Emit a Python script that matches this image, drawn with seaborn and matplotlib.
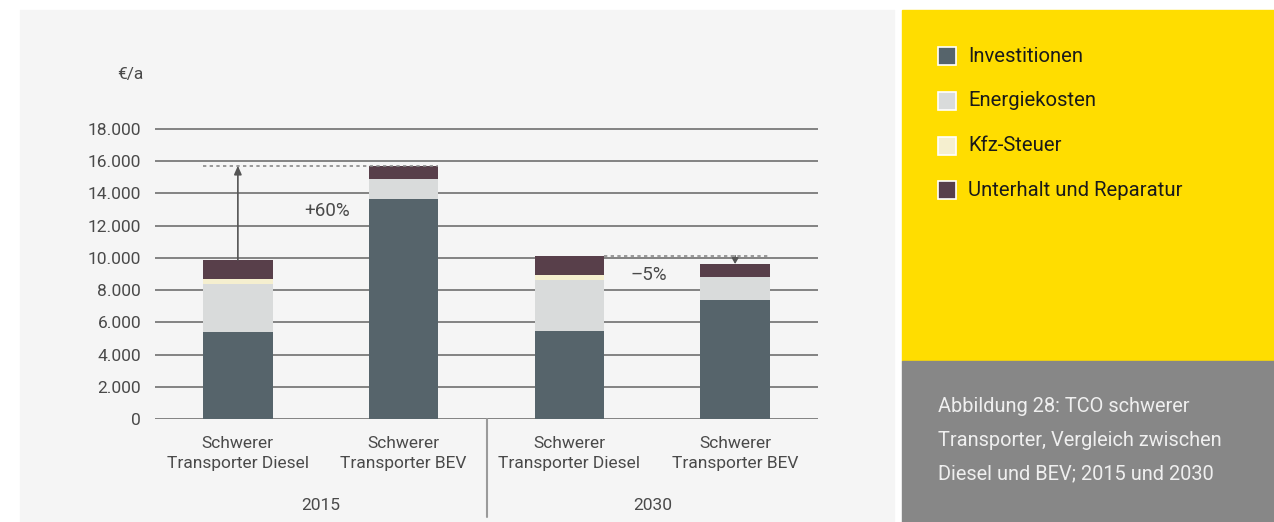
import numpy as np
import pandas as pd
import matplotlib
matplotlib.use("Agg")
import matplotlib.pyplot as plt
from matplotlib.patches import Rectangle
import seaborn as sns

# data (EUR per year)
bar_ids = ["d2015", "bev2015", "d2030", "bev2030"]
bar_labels = ["Schwerer\nTransporter Diesel", "Schwerer\nTransporter BEV",
              "Schwerer\nTransporter Diesel", "Schwerer\nTransporter BEV"]
years = ["2015", "2030"]
investitionen = [5400, 13660, 5460, 7390]
energiekosten = [2980, 1240, 3170, 1440]
kfz_steuer = [310, 0, 330, 0]
unterhalt = [1180, 820, 1180, 790]
components = ["Investitionen", "Energiekosten", "Kfz-Steuer", "Unterhalt und Reparatur"]
colors = ["#56646b", "#d9dbdb", "#f5efcf", "#583f4a"]
yticks = [0, 2000, 4000, 6000, 8000, 10000, 12000, 14000, 16000, 18000]
ytick_labels = ["0", "2.000", "4.000", "6.000", "8.000", "10.000",
                "12.000", "14.000", "16.000", "18.000"]
caption_lines = ["Abbildung 28: TCO schwerer", "Transporter, Vergleich zwischen",
                 "Diesel und BEV; 2015 und 2030"]

df = pd.DataFrame({"bar": bar_ids, "Investitionen": investitionen,
                   "Energiekosten": energiekosten, "Kfz-Steuer": kfz_steuer,
                   "Unterhalt und Reparatur": unterhalt})
cum = df[components].cumsum(axis=1)
totals = cum[components[-1]]

sns.set_style("white")
plt.rcParams["font.family"] = ["Roboto", "DejaVu Sans"]

W, H = 1274, 522
fig = plt.figure(figsize=(W / 100, H / 100), dpi=100)
fig.patch.set_facecolor("white")

def fx(px):
    return px / W

def fy(py):
    return 1 - py / H

# background panels
fig.patches.append(Rectangle((fx(20), 0), fx(894) - fx(20), fy(10), transform=fig.transFigure,
                             color="#f5f5f5", zorder=-10))
fig.patches.append(Rectangle((fx(902), fy(361)), 1 - fx(902), fy(10) - fy(361),
                             transform=fig.transFigure, color="#ffdd00", zorder=-10))
fig.patches.append(Rectangle((fx(902), 0), 1 - fx(902), fy(361),
                             transform=fig.transFigure, color="#878787", zorder=-10))

ymax = 18500
px_per_unit = (419 - 129) / 18000
top_px = 419 - ymax * px_per_unit
ax = fig.add_axes([fx(155), fy(419), fx(818) - fx(155), fy(top_px) - fy(419)])
ax.set_facecolor("none")

# stacked bars: draw cumulative sums from the top down
for comp, col in reversed(list(zip(components, colors))):
    sns.barplot(x=df["bar"], y=cum[comp], color=col, width=0.42, saturation=1,
                errorbar=None, linewidth=0, ax=ax, zorder=3)

ax.set_xlim(-0.5, 3.5)
ax.set_ylim(0, ymax)
ax.set_yticks(yticks)
ax.set_yticklabels(ytick_labels)
ax.yaxis.grid(True, color="#636363", linewidth=1.1)
ax.set_axisbelow(True)
for s in ax.spines.values():
    s.set_visible(False)
ax.tick_params(axis="y", length=0, pad=10, labelsize=12.5, labelcolor="#4a4a4a")
ax.set_xticks(range(len(bar_ids)))
ax.set_xticklabels(bar_labels, fontsize=12.5, color="#4a4a4a", linespacing=1.45)
ax.tick_params(axis="x", length=0, pad=12)
ax.set_xlabel("")
ax.set_ylabel("")

ax.text(-0.5 - 12 / 166, 18000 + 54 / px_per_unit, "€/a", ha="right", va="center",
        fontsize=12.5, color="#4a4a4a")

# year labels and separator
ax.text(0.5, -0.29, years[0], transform=ax.get_xaxis_transform(), ha="center", va="center",
        fontsize=12.5, color="#4a4a4a")
ax.text(2.5, -0.29, years[1], transform=ax.get_xaxis_transform(), ha="center", va="center",
        fontsize=12.5, color="#4a4a4a")
ax.plot([1.5, 1.5], [0, -0.33], transform=ax.get_xaxis_transform(), color="#9a9a9a",
        lw=1.5, clip_on=False)

# +60 % annotation
ax.plot([-0.21, 1.21], [totals[1], totals[1]], color="#8a8a8a", lw=1.2, ls=(0, (2, 2)), zorder=4)
ax.annotate("", xy=(0, totals[1]), xytext=(0, totals[0]),
            arrowprops=dict(arrowstyle="-|>,head_length=0.5,head_width=0.22",
                            color="#555555", lw=1.2, shrinkA=0, shrinkB=0), zorder=5)
ax.text(0.54, 12900, "+60%", ha="center", va="center", fontsize=13.5, color="#4a4a4a")

# -5 % annotation
ax.plot([2.21, 3.21], [totals[2], totals[2]], color="#8a8a8a", lw=1.2, ls=(0, (2, 2)), zorder=4)
ax.annotate("", xy=(3, totals[3]), xytext=(3, totals[2]),
            arrowprops=dict(arrowstyle="-|>,head_length=0.35,head_width=0.2",
                            color="#555555", lw=1.0, shrinkA=0, shrinkB=0), zorder=5)
ax.text(2.48, 8950, "\u20135%", ha="center", va="center", fontsize=13.5, color="#4a4a4a")

# legend in the yellow panel
row_px = [56, 101, 146, 190]
for name, col, ry in zip(components, colors, row_px):
    fig.patches.append(Rectangle((fx(938), fy(ry + 9)), fx(18), 18 / H, transform=fig.transFigure,
                                 facecolor=col, edgecolor="white", linewidth=1.2, zorder=5))
    fig.text(fx(968), fy(ry), name, ha="left", va="center", fontsize=14.6, color="#1a1a1a")

# caption in the grey panel
for line, ly in zip(caption_lines, [407, 440, 474]):
    fig.text(fx(938), fy(ly), line, ha="left", va="center", fontsize=14.4, color="#efefef")

fig.savefig("out.png", dpi=100, facecolor=fig.get_facecolor())
